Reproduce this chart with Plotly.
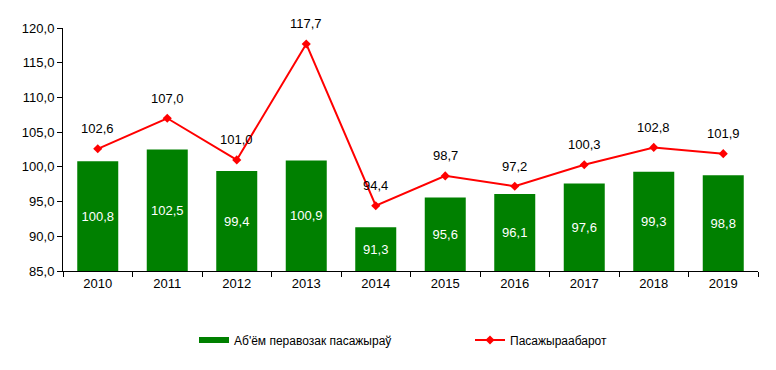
import plotly.graph_objects as go

years = ["2010", "2011", "2012", "2013", "2014", "2015", "2016", "2017", "2018", "2019"]
volume = [100.8, 102.5, 99.4, 100.9, 91.3, 95.6, 96.1, 97.6, 99.3, 98.8]
turnover = [102.6, 107.0, 101.0, 117.7, 94.4, 98.7, 97.2, 100.3, 102.8, 101.9]
y_ticks = [85, 90, 95, 100, 105, 110, 115, 120]
bar_name = "Аб'ём перавозак пасажыраў"
line_name = "Пасажыраабарот"

def fmt(v):
    return f"{v:.1f}".replace(".", ",")

font = "Liberation Sans, Arial, sans-serif"
green = "#008000"
red = "#FF0000"

fig = go.Figure()
fig.add_trace(go.Bar(
    x=years, y=[v - 85 for v in volume], base=85,
    name=bar_name, showlegend=False,
    marker=dict(color=green, line=dict(width=0)),
    width=0.59,
    text=[fmt(v) for v in volume], textposition="inside",
    insidetextanchor="middle",
    textfont=dict(color="white", size=13, family=font),
    hoverinfo="skip",
))
# legend-only entry giving the wide green swatch
fig.add_trace(go.Scatter(
    x=[None], y=[None], mode="lines", name=bar_name,
    line=dict(color=green, width=6),
))
fig.add_trace(go.Scatter(
    x=years, y=turnover, name=line_name,
    mode="lines+markers",
    line=dict(color=red, width=2),
    marker=dict(symbol="diamond", size=7, color=red),
    cliponaxis=False,
))
for i, v in enumerate(turnover):
    fig.add_annotation(x=i, y=v, text=fmt(v), showarrow=False, yshift=20,
                       font=dict(color="black", size=13, family=font))

fig.update_layout(
    width=776, height=370,
    margin=dict(l=63, r=18, t=28, b=99),
    plot_bgcolor="white", paper_bgcolor="white",
    font=dict(family=font, size=13, color="black"),
    showlegend=True,
    legend=dict(orientation="h", xref="container", x=194/776, xanchor="left",
                yref="container", y=1 - 340/370, yanchor="middle",
                font=dict(size=12), itemwidth=30, entrywidth=231, tracegroupgap=0),
    bargap=0.41,
)
fig.update_xaxes(
    type="category", range=[-0.5, len(years) - 0.5],
    showline=True, linecolor="black", linewidth=1,
    ticks="outside", ticklen=5, tickson="boundaries", tickcolor="black",
    showgrid=False, tickfont=dict(size=13), automargin=False,
)
fig.update_yaxes(
    range=[85, 120], tickvals=y_ticks, ticktext=[fmt(v) for v in y_ticks],
    showline=True, linecolor="black", linewidth=1,
    ticks="outside", ticklen=5, tickcolor="black", showgrid=False,
    zeroline=False, tickfont=dict(size=13), automargin=False,
)
fig.write_html("out.html", config={"displayModeBar": False},
               post_script="document.body.style.margin='0';")
